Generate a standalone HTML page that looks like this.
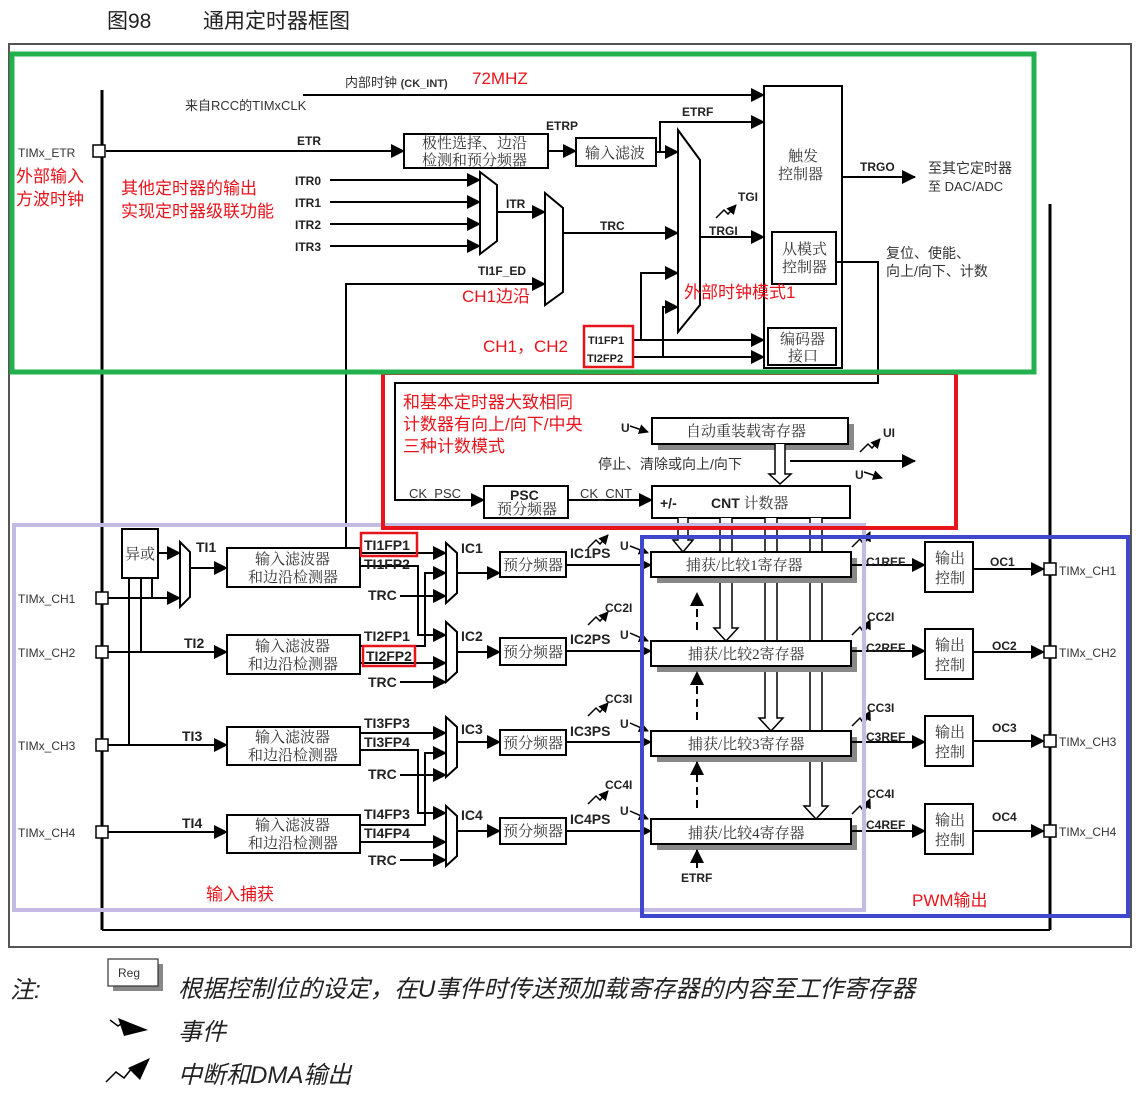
<!DOCTYPE html>
<html><head><meta charset="utf-8"><style>
html,body{margin:0;padding:0;background:#fff;}
svg{display:block;}
.s{font-family:"Liberation Sans","Noto Sans CJK SC",sans-serif;}
.b{font-family:"Liberation Sans","Noto Sans CJK SC",sans-serif;font-weight:bold;font-size:12px;fill:#222;}
.z{font-family:"Liberation Serif","Noto Serif CJK SC",serif;font-size:15px;fill:#333;}
.r{font-family:"Liberation Sans","Noto Sans CJK SC",sans-serif;font-size:17px;fill:#e8141c;}
.n{font-family:"Liberation Sans","Noto Sans CJK SC",sans-serif;font-size:12px;fill:#333;}
</style></head><body>
<svg width="1138" height="1097" viewBox="0 0 1138 1097" xmlns="http://www.w3.org/2000/svg">
<defs>
<marker id="a" markerWidth="14" markerHeight="14" refX="13" refY="7" orient="auto" markerUnits="userSpaceOnUse"><path d="M0,0 L14,7 L0,14 z" fill="#000"/></marker>
<marker id="as" markerWidth="10" markerHeight="10" refX="9" refY="5" orient="auto" markerUnits="userSpaceOnUse"><path d="M0,0 L10,5 L0,10 z" fill="#000"/></marker>
</defs>
<g class="s">
<text x="107" y="28" font-size="21" fill="#222">图98</text>
<text x="203" y="28" font-size="21" fill="#222">通用定时器框图</text>
</g>
<rect x="9" y="44" width="1122" height="903" fill="none" stroke="#555" stroke-width="2"/>
<g stroke="#000" fill="none">
<line x1="102" y1="90" x2="102" y2="930" stroke-width="3"/>
<line x1="102" y1="930" x2="1050" y2="930" stroke-width="2"/>
<line x1="1050" y1="204" x2="1050" y2="930" stroke-width="3"/>
</g>

<g stroke="#000" stroke-width="2" fill="none">
<line x1="303" y1="95" x2="764" y2="95" marker-end="url(#a)"/>
<line x1="106" y1="151" x2="404" y2="151" marker-end="url(#a)"/>
<rect x="404" y="134" width="144" height="34" fill="#fff"/>
<line x1="548" y1="151" x2="576" y2="151" marker-end="url(#a)"/>
<rect x="576" y="138" width="80" height="28" fill="#fff"/>
<line x1="656" y1="152" x2="678" y2="152" marker-end="url(#a)"/>
<polyline points="660,152 660,122 764,122" marker-end="url(#a)"/>
<line x1="330" y1="180" x2="480" y2="180" marker-end="url(#a)"/>
<line x1="330" y1="202" x2="480" y2="202" marker-end="url(#a)"/>
<line x1="330" y1="224" x2="480" y2="224" marker-end="url(#a)"/>
<line x1="330" y1="246" x2="480" y2="246" marker-end="url(#a)"/>
<polygon points="480,172 497,185 497,241 480,254" fill="#fff"/>
<line x1="497" y1="212" x2="545" y2="212" marker-end="url(#a)"/>
<polyline points="346,548 346,284 545,284" marker-end="url(#a)"/>
<polygon points="545,193 563,208 563,292 545,305" fill="#fff"/>
<line x1="563" y1="233" x2="678" y2="233" marker-end="url(#a)"/>
<polygon points="678,130 700,160 700,305 678,332" fill="#fff"/>
<line x1="700" y1="237" x2="764" y2="237" marker-end="url(#a)"/>
<polyline points="641,340 641,273 678,273" marker-end="url(#a)"/>
<polyline points="663,357 663,307 678,307" marker-end="url(#a)"/>
<line x1="633" y1="340" x2="764" y2="340" marker-end="url(#a)"/>
<line x1="633" y1="357" x2="764" y2="357" marker-end="url(#a)"/>
<rect x="764" y="86" width="78" height="282" fill="#fff"/>
<rect x="772" y="232" width="64" height="52" fill="#fff"/>
<rect x="768" y="328" width="68" height="37" fill="#fff"/>
<line x1="842" y1="177" x2="915" y2="177" marker-end="url(#a)"/>
<polyline points="836,262 878,262 878,383 395,383 395,500 484,500" marker-end="url(#a)"/>
<rect x="658" y="424" width="196" height="26" fill="#888" stroke="none"/>
<rect x="652" y="418" width="196" height="26" fill="#fff"/>
<rect x="484" y="486" width="84" height="32" fill="#fff"/>
<line x1="568" y1="500" x2="652" y2="500" marker-end="url(#a)"/>
<rect x="652" y="486" width="198" height="32" fill="#fff"/>
<line x1="790" y1="461" x2="915" y2="461" marker-end="url(#a)"/>
<path d="M775,444 V474 H769 L780,484 L791,474 H785 V444" fill="#fff" stroke-width="1.5"/>
<g stroke-width="1.5">
<path d="M678,518 V540 H673 L683,552 L693,540 H688 V518" fill="#fff"/>
<path d="M720,518 V628 H714 L726,641 L738,628 H732 V518" fill="#fff"/>
<path d="M765,518 V718 H759 L771,731 L783,718 H777 V518" fill="#fff"/>
<path d="M810,518 V806 H804 L816,819 L828,806 H822 V518" fill="#fff"/>
</g>
</g>

<g stroke="#000" stroke-width="2" fill="none">
<rect x="122" y="529" width="36" height="49" fill="#fff"/>
<line x1="158" y1="553" x2="180" y2="553" marker-end="url(#a)"/>
<polygon points="180,542 190,552 190,597 180,607" fill="#fff"/>
<line x1="106" y1="598" x2="180" y2="598" marker-end="url(#a)"/>
<line x1="129" y1="578" x2="129" y2="745"/>
<line x1="141" y1="578" x2="141" y2="652"/>
<line x1="152" y1="578" x2="152" y2="598"/>
<line x1="190" y1="568" x2="227" y2="568" marker-end="url(#a)"/>
<line x1="106" y1="652" x2="227" y2="652" marker-end="url(#a)"/>
<line x1="106" y1="745" x2="227" y2="745" marker-end="url(#a)"/>
<line x1="106" y1="832" x2="227" y2="832" marker-end="url(#a)"/>
<rect x="227" y="548" width="133" height="39" fill="#fff"/>
<rect x="227" y="635" width="133" height="39" fill="#fff"/>
<rect x="227" y="727" width="133" height="38" fill="#fff"/>
<rect x="227" y="815" width="133" height="38" fill="#fff"/>
<line x1="360" y1="553" x2="446" y2="553" marker-end="url(#a)"/>
<polyline points="360,566 418,566 418,635 446,635" marker-end="url(#a)"/>
<polyline points="360,646 425,646 425,573 446,573" marker-end="url(#a)"/>
<line x1="400" y1="596" x2="446" y2="596" marker-end="url(#a)"/>
<polygon points="446,543 457,553 457,593 446,603" fill="#fff"/>
<line x1="360" y1="663" x2="446" y2="663" marker-end="url(#a)"/>
<line x1="400" y1="682" x2="446" y2="682" marker-end="url(#a)"/>
<polygon points="446,622 457,632 457,672 446,682" fill="#fff"/>
<line x1="360" y1="733" x2="446" y2="733" marker-end="url(#a)"/>
<polyline points="360,750 418,750 418,813 446,813" marker-end="url(#a)"/>
<polyline points="360,825 425,825 425,753 446,753" marker-end="url(#a)"/>
<line x1="400" y1="775" x2="446" y2="775" marker-end="url(#a)"/>
<polygon points="446,717 457,727 457,767 446,777" fill="#fff"/>
<line x1="360" y1="842" x2="446" y2="842" marker-end="url(#a)"/>
<line x1="400" y1="860" x2="446" y2="860" marker-end="url(#a)"/>
<polygon points="446,806 457,816 457,856 446,866" fill="#fff"/>
<line x1="457" y1="573" x2="500" y2="573" marker-end="url(#a)"/>
<line x1="457" y1="652" x2="500" y2="652" marker-end="url(#a)"/>
<line x1="457" y1="742" x2="500" y2="742" marker-end="url(#a)"/>
<line x1="457" y1="831" x2="500" y2="831" marker-end="url(#a)"/>
<rect x="500" y="552" width="66" height="25" fill="#fff"/>
<rect x="500" y="638" width="66" height="27" fill="#fff"/>
<rect x="500" y="730" width="66" height="25" fill="#fff"/>
<rect x="500" y="818" width="66" height="26" fill="#fff"/>
<line x1="566" y1="565" x2="651" y2="565" marker-end="url(#as)"/>
<line x1="566" y1="651" x2="651" y2="651" marker-end="url(#as)"/>
<line x1="566" y1="742" x2="651" y2="742" marker-end="url(#as)"/>
<line x1="566" y1="831" x2="651" y2="831" marker-end="url(#as)"/>
<rect x="657" y="558" width="200" height="25" fill="#888" stroke="none"/>
<rect x="657" y="647" width="200" height="25" fill="#888" stroke="none"/>
<rect x="657" y="737" width="200" height="25" fill="#888" stroke="none"/>
<rect x="657" y="825" width="200" height="25" fill="#888" stroke="none"/>
<rect x="651" y="552" width="200" height="25" fill="#fff"/>
<rect x="651" y="641" width="200" height="25" fill="#fff"/>
<rect x="651" y="731" width="200" height="25" fill="#fff"/>
<rect x="651" y="819" width="200" height="25" fill="#fff"/>
<line x1="697" y1="630" x2="697" y2="593" stroke-dasharray="8,5" marker-end="url(#a)"/>
<line x1="697" y1="720" x2="697" y2="672" stroke-dasharray="8,5" marker-end="url(#a)"/>
<line x1="697" y1="808" x2="697" y2="762" stroke-dasharray="8,5" marker-end="url(#a)"/>
<line x1="697" y1="868" x2="697" y2="850" marker-end="url(#a)"/>
<line x1="851" y1="565" x2="925" y2="565" marker-end="url(#a)"/>
<line x1="851" y1="651" x2="925" y2="651" marker-end="url(#a)"/>
<line x1="851" y1="742" x2="925" y2="742" marker-end="url(#a)"/>
<line x1="851" y1="831" x2="925" y2="831" marker-end="url(#a)"/>
<rect x="925" y="542" width="48" height="50" fill="#fff"/>
<rect x="925" y="629" width="48" height="50" fill="#fff"/>
<rect x="925" y="716" width="48" height="50" fill="#fff"/>
<rect x="925" y="804" width="48" height="50" fill="#fff"/>
<line x1="973" y1="569" x2="1044" y2="569" marker-end="url(#a)"/>
<line x1="973" y1="652" x2="1044" y2="652" marker-end="url(#a)"/>
<line x1="973" y1="741" x2="1044" y2="741" marker-end="url(#a)"/>
<line x1="973" y1="831" x2="1044" y2="831" marker-end="url(#a)"/>
</g>
<g fill="#fff" stroke="#000" stroke-width="1.5">
<rect x="93" y="145" width="12" height="12"/>
<rect x="96" y="592" width="12" height="12"/>
<rect x="96" y="646" width="12" height="12"/>
<rect x="96" y="739" width="12" height="12"/>
<rect x="96" y="826" width="12" height="12"/>
<rect x="1044" y="563" width="12" height="12"/>
<rect x="1044" y="646" width="12" height="12"/>
<rect x="1044" y="735" width="12" height="12"/>
<rect x="1044" y="825" width="12" height="12"/>
</g>
<g stroke="#000" stroke-width="1.5" fill="none">
<polyline points="716,218 724,210 728,214 736,205" marker-end="url(#as)"/>
<polyline points="860,452 868,444 872,448 880,439" marker-end="url(#as)"/>
<polyline points="588,548 596,540 600,544 608,535" marker-end="url(#as)"/>
<polyline points="588,625 596,617 600,621 608,612" marker-end="url(#as)"/>
<polyline points="588,716 596,708 600,712 608,703" marker-end="url(#as)"/>
<polyline points="588,804 596,796 600,800 608,791" marker-end="url(#as)"/>
<polyline points="852,547 860,539 864,545 870,532" marker-end="url(#as)"/>
<polyline points="852,635 860,627 864,633 870,620" marker-end="url(#as)"/>
<polyline points="852,726 860,718 864,724 870,711" marker-end="url(#as)"/>
<polyline points="852,814 860,806 864,812 870,799" marker-end="url(#as)"/>
<line x1="630" y1="426" x2="648" y2="432" marker-end="url(#as)"/>
<line x1="864" y1="472" x2="882" y2="478" marker-end="url(#as)"/>
<line x1="630" y1="546" x2="648" y2="553" marker-end="url(#as)"/>
<line x1="630" y1="633" x2="648" y2="641" marker-end="url(#as)"/>
<line x1="630" y1="723" x2="648" y2="731" marker-end="url(#as)"/>
<line x1="630" y1="811" x2="648" y2="819" marker-end="url(#as)"/>
</g>

<g class="n">
<text x="345" y="87" font-size="13"><tspan>内部时钟 </tspan><tspan font-weight="bold" font-size="11">(CK_INT)</tspan></text>
<text x="185" y="110" font-size="13">来自RCC的TIMxCLK</text>
<text x="18" y="157" font-size="12">TIMx_ETR</text>
<text x="18" y="603">TIMx_CH1</text>
<text x="18" y="657">TIMx_CH2</text>
<text x="18" y="750">TIMx_CH3</text>
<text x="18" y="837">TIMx_CH4</text>
<text x="1059" y="575">TIMx_CH1</text>
<text x="1059" y="657">TIMx_CH2</text>
<text x="1059" y="746">TIMx_CH3</text>
<text x="1059" y="836">TIMx_CH4</text>
<text x="928" y="173" font-size="14">至其它定时器</text>
<text x="928" y="191" font-size="13">至 DAC/ADC</text>
<text x="886" y="258" font-size="14">复位、使能、</text>
<text x="886" y="276" font-size="14">向上/向下、计数</text>
<text x="598" y="469" font-size="14">停止、清除或向上/向下</text>
<text x="409" y="498" font-size="13">CK_PSC</text>
<text x="580" y="498" font-size="13">CK_CNT</text>
</g>
<g class="b">
<text x="297" y="145">ETR</text>
<text x="546" y="130">ETRP</text>
<text x="682" y="116">ETRF</text>
<text x="295" y="185">ITR0</text>
<text x="295" y="207">ITR1</text>
<text x="295" y="229">ITR2</text>
<text x="295" y="251">ITR3</text>
<text x="506" y="208">ITR</text>
<text x="478" y="275">TI1F_ED</text>
<text x="600" y="230">TRC</text>
<text x="709" y="235">TRGI</text>
<text x="738" y="201">TGI</text>
<text x="860" y="171">TRGO</text>
<text x="588" y="344" font-size="11">TI1FP1</text>
<text x="587" y="362" font-size="11">TI2FP2</text>
<text x="621" y="432">U</text>
<text x="883" y="437">UI</text>
<text x="855" y="479">U</text>
<text x="196" y="552" font-size="14">TI1</text>
<text x="184" y="648" font-size="14">TI2</text>
<text x="182" y="741" font-size="14">TI3</text>
<text x="182" y="828" font-size="14">TI4</text>
<g font-size="14">
<text x="364" y="550">TI1FP1</text>
<text x="364" y="569">TI1FP2</text>
<text x="368" y="600">TRC</text>
<text x="364" y="641">TI2FP1</text>
<text x="366" y="661">TI2FP2</text>
<text x="368" y="687">TRC</text>
<text x="364" y="728">TI3FP3</text>
<text x="364" y="747">TI3FP4</text>
<text x="368" y="779">TRC</text>
<text x="364" y="819">TI4FP3</text>
<text x="364" y="838">TI4FP4</text>
<text x="368" y="865">TRC</text>
<text x="461" y="553">IC1</text>
<text x="461" y="641">IC2</text>
<text x="461" y="734">IC3</text>
<text x="461" y="820">IC4</text>
<text x="570" y="558">IC1PS</text>
<text x="570" y="644">IC2PS</text>
<text x="570" y="736">IC3PS</text>
<text x="570" y="824">IC4PS</text>
</g>
<text x="620" y="550">U</text>
<text x="620" y="639">U</text>
<text x="620" y="728">U</text>
<text x="620" y="815">U</text>
<text x="605" y="612">CC2I</text>
<text x="605" y="703">CC3I</text>
<text x="605" y="789">CC4I</text>
<text x="867" y="621">CC2I</text>
<text x="867" y="712">CC3I</text>
<text x="867" y="798">CC4I</text>
<text x="866" y="566">C1REF</text>
<text x="866" y="652">C2REF</text>
<text x="866" y="741">C3REF</text>
<text x="866" y="829">C4REF</text>
<text x="990" y="566">OC1</text>
<text x="992" y="650">OC2</text>
<text x="992" y="732">OC3</text>
<text x="992" y="821">OC4</text>
<text x="681" y="882">ETRF</text>
<text x="660" y="508" font-size="14">+/-</text>
<text x="510" y="500" font-size="14">PSC</text>
</g>
<g class="z">
<text x="422" y="148">极性选择、边沿</text>
<text x="422" y="165">检测和预分频器</text>
<text x="585" y="158">输入滤波</text>
<text x="788" y="161">触发</text>
<text x="778" y="179">控制器</text>
<text x="782" y="254">从模式</text>
<text x="782" y="272">控制器</text>
<text x="780" y="344">编码器</text>
<text x="788" y="361">接口</text>
<text x="686" y="436">自动重装载寄存器</text>
<text x="497" y="514">预分频器</text>
<text x="711" y="508"><tspan font-family="Liberation Sans" font-weight="bold" font-size="14" fill="#222">CNT</tspan> 计数器</text>
<text x="125" y="559">异或</text>
<text x="255" y="564">输入滤波器</text><text x="248" y="582">和边沿检测器</text>
<text x="255" y="651">输入滤波器</text><text x="248" y="669">和边沿检测器</text>
<text x="255" y="742">输入滤波器</text><text x="248" y="760">和边沿检测器</text>
<text x="255" y="830">输入滤波器</text><text x="248" y="848">和边沿检测器</text>
<text x="503" y="570">预分频器</text>
<text x="503" y="657">预分频器</text>
<text x="503" y="748">预分频器</text>
<text x="503" y="836">预分频器</text>
<text x="686" y="570">捕获/比较1寄存器</text>
<text x="688" y="659">捕获/比较2寄存器</text>
<text x="688" y="749">捕获/比较3寄存器</text>
<text x="688" y="838">捕获/比较4寄存器</text>
<text x="935" y="563">输出</text><text x="935" y="583">控制</text>
<text x="935" y="650">输出</text><text x="935" y="670">控制</text>
<text x="935" y="737">输出</text><text x="935" y="757">控制</text>
<text x="935" y="825">输出</text><text x="935" y="845">控制</text>
</g>

<rect x="14" y="525" width="850" height="385" fill="none" stroke="#c3bbe4" stroke-width="4"/>
<rect x="383" y="373" width="573" height="155" fill="none" stroke="#e8141c" stroke-width="4"/>
<rect x="12" y="54" width="1022" height="318" fill="none" stroke="#22b14c" stroke-width="5"/>
<rect x="642" y="537" width="486" height="379" fill="none" stroke="#3f48cc" stroke-width="4"/>
<rect x="584" y="326" width="49" height="41" fill="none" stroke="#e8141c" stroke-width="2.5"/>
<rect x="361" y="533" width="56" height="23" fill="none" stroke="#e8141c" stroke-width="2.5"/>
<rect x="363" y="646" width="52" height="20" fill="none" stroke="#e8141c" stroke-width="2.5"/>

<g class="r">
<text x="472" y="84">72MHZ</text>
<text x="16" y="182">外部输入</text>
<text x="16" y="205">方波时钟</text>
<text x="121" y="194">其他定时器的输出</text>
<text x="121" y="217">实现定时器级联功能</text>
<text x="462" y="302">CH1边沿</text>
<text x="483" y="352">CH1，CH2</text>
<text x="684" y="298">外部时钟模式1</text>
<text x="403" y="408">和基本定时器大致相同</text>
<text x="403" y="430">计数器有向上/向下/中央</text>
<text x="403" y="452">三种计数模式</text>
<text x="206" y="900">输入捕获</text>
<text x="912" y="906">PWM输出</text>
</g>

<rect x="113" y="964" width="50" height="27" fill="#888"/>
<rect x="108" y="959" width="50" height="27" fill="#fff" stroke="#333" stroke-width="1.2"/>
<text x="118" y="977" class="s" font-size="12" fill="#333">Reg</text>
<g class="s" font-size="24" font-style="italic" fill="#222">
<text x="10" y="998">注:</text>
<text x="178" y="997">根据控制位的设定，在U事件时传送预加载寄存器的内容至工作寄存器</text>
<text x="178" y="1040">事件</text>
<text x="178" y="1083">中断和DMA输出</text>
</g>
<g stroke="#000" stroke-width="1.5" fill="none">
<polyline points="110,1020 118,1026 124,1022"/>
</g>
<path d="M118,1018 L148,1030 L124,1036 z" fill="#000"/>
<polyline points="106,1082 116,1072 124,1078 132,1068" stroke="#000" stroke-width="1.5" fill="none"/>
<path d="M128,1068 L150,1058 L140,1080 z" fill="#000"/>
</svg>
</body></html>
